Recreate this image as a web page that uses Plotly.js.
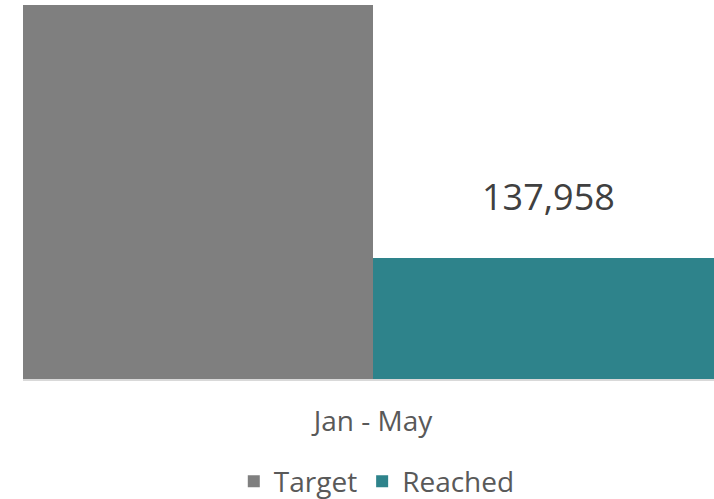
<!DOCTYPE html>
<html>
<head>
<meta charset="utf-8">
<script src="https://cdn.plot.ly/plotly-3.0.1.min.js"></script>
<style>html,body{margin:0;padding:0;background:#fff;}#chart{width:714px;height:499px;}</style>
</head>
<body>
<div id="chart"></div>
<script>
const categories = ['Jan - May'];
const seriesNames = ['Target', 'Reached'];
const targetValues = [426000];
const reachedValues = [137958];
const colors = ['#7f7f7f', '#2e838b'];

const traces = [
  {type: 'bar', name: seriesNames[0], x: categories, y: targetValues,
   marker: {color: colors[0]}, hoverinfo: 'skip'},
  {type: 'bar', name: seriesNames[1], x: categories, y: reachedValues,
   marker: {color: colors[1]}, hoverinfo: 'skip'}
];

const layout = {
  width: 714, height: 499,
  margin: {l: 23, r: 0, t: 5, b: 120, autoexpand: false},
  paper_bgcolor: '#ffffff', plot_bgcolor: '#ffffff',
  font: {family: 'Open Sans, sans-serif', color: '#595959'},
  barmode: 'group', bargap: 0, bargroupgap: 0,
  showlegend: true,
  legend: {orientation: 'h', x: 0.512, xanchor: 'center', y: -0.274, yanchor: 'middle',
           bgcolor: 'rgba(0,0,0,0)', itemwidth: 30,
           font: {size: 28, color: '#595959'}, traceorder: 'normal'},
  xaxis: {type: 'category', range: [-0.5, 0.4871], showgrid: false, zeroline: false,
          automargin: false,
          showline: true, linecolor: '#d9d9d9', linewidth: 2,
          ticks: 'outside', ticklen: 16, tickcolor: 'rgba(0,0,0,0)',
          tickfont: {size: 28, color: '#595959'}, fixedrange: true},
  yaxis: {range: [0, 426400], visible: false, showgrid: false, zeroline: false, fixedrange: true},
  annotations: [{
    x: 0.25, y: reachedValues[0], xref: 'x', yref: 'y',
    text: reachedValues[0].toLocaleString('en-US'),
    showarrow: false, yanchor: 'middle', yshift: 62,
    font: {size: 36, color: '#404040', family: 'Open Sans, sans-serif'}
  }]
};

Plotly.newPlot('chart', traces, layout, {displayModeBar: false, staticPlot: true});
</script>
</body>
</html>
